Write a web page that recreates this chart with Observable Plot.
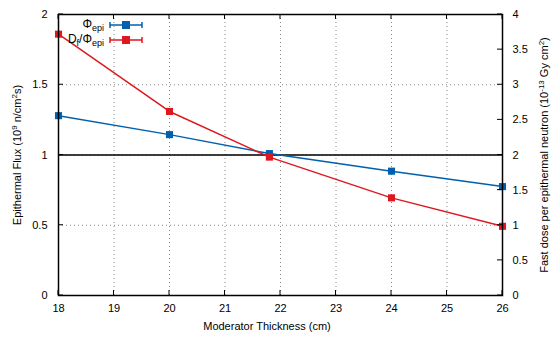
<!DOCTYPE html>
<html><head><meta charset="utf-8">
<script src="https://cdn.jsdelivr.net/npm/d3@7"></script>
<script src="https://cdn.jsdelivr.net/npm/@observablehq/plot@0.6"></script>
<style>
body{margin:0;background:#fff;font-family:"Liberation Sans",Arial,sans-serif;}
#wrap{position:relative;width:553px;height:337px;}
#legend{position:absolute;left:0;top:0;width:553px;height:337px;font-size:11px;color:#000;pointer-events:none;}
.row{position:absolute;left:0;width:104px;display:flex;justify-content:flex-end;align-items:center;}
</style>
</head><body>
<div id="wrap"><div id="chart"></div><div id="legend"></div></div>
<script>
const thickness = [18, 20, 21.8, 24, 26];
const flux = [1.28, 1.145, 1.01, 0.885, 0.775];           // 10^9 n/cm2s (left axis)
const dosePerNeutron = [3.72, 2.62, 1.97, 1.39, 0.985];  // 10^-13 Gy cm2 (right axis)
const xTicks = [18, 19, 20, 21, 22, 23, 24, 25, 26];
const yLeftTicks = [0, 0.5, 1, 1.5, 2];
const yRightTicks = [0, 0.5, 1, 1.5, 2, 2.5, 3, 3.5, 4];
const refLine = [1];
const blue = "#0060ad", red = "#dd181f";

const fluxData = thickness.map((t, i) => ({t, v: flux[i]}));
const doseData = thickness.map((t, i) => ({t, v: dosePerNeutron[i]}));
const ratio = 2; // right axis max / left axis max

const font = "Liberation Sans, Arial, sans-serif";
const chart = Plot.plot({
  width: 553, height: 337,
  marginLeft: 58, marginRight: 51, marginTop: 14, marginBottom: 42,
  style: {fontFamily: font, fontSize: "11px", color: "#000", background: "#fff"},
  x: {domain: [18, 26]},
  y: {domain: [0, 2]},
  marks: [
    Plot.gridX(xTicks.slice(1, -1), {stroke: "#888", strokeOpacity: 1, strokeDasharray: "1,3"}),
    Plot.gridY(yLeftTicks.slice(1, -1), {stroke: "#888", strokeOpacity: 1, strokeDasharray: "1,3"}),
    Plot.axisX(xTicks, {anchor: "bottom", tickSize: 0, tickPadding: 9, tickFormat: d => d, label: null, fontSize: 11}),
    Plot.axisY(yLeftTicks, {anchor: "left", tickSize: 0, tickPadding: 11, tickFormat: d => d, label: null, fontSize: 11}),
    Plot.axisY(yRightTicks.map(d => d / ratio), {anchor: "right", tickSize: 0, tickPadding: 10, tickFormat: d => d * ratio, label: null, fontSize: 11}),
    Plot.ruleY(refLine, {stroke: "#000", strokeWidth: 1.5}),
    Plot.line(fluxData, {x: "t", y: "v", stroke: blue, strokeWidth: 1.5}),
    Plot.dot(fluxData, {x: "t", y: "v", symbol: "square", fill: blue, r: 4}),
    Plot.line(doseData, {x: "t", y: d => d.v / ratio, stroke: red, strokeWidth: 1.5}),
    Plot.dot(doseData, {x: "t", y: d => d.v / ratio, symbol: "square", fill: red, r: 4}),
    Plot.frame({stroke: "#000", strokeWidth: 1.5})
  ]
});
document.getElementById("chart").appendChild(chart);

const svg = d3.select(chart);
const xs = chart.scale("x"), ys = chart.scale("y");
const x0 = xs.apply(18), x1 = xs.apply(26), y0 = ys.apply(0), y1 = ys.apply(2);
const tk = 5;
const g = svg.append("g").attr("stroke", "#000").attr("stroke-width", 1);
xTicks.forEach(v => {
  const px = xs.apply(v);
  g.append("line").attr("x1", px).attr("x2", px).attr("y1", y0).attr("y2", y0 - tk);
  g.append("line").attr("x1", px).attr("x2", px).attr("y1", y1).attr("y2", y1 + tk);
});
yLeftTicks.forEach(v => {
  const py = ys.apply(v);
  g.append("line").attr("x1", x0).attr("x2", x0 + tk).attr("y1", py).attr("y2", py);
});
yRightTicks.forEach(v => {
  const py = ys.apply(v / ratio);
  g.append("line").attr("x1", x1).attr("x2", x1 - tk).attr("y1", py).attr("y2", py);
});

// axis titles
svg.append("text").attr("x", 267).attr("y", 330).attr("text-anchor", "middle")
  .attr("font-size", 11).attr("font-family", font).text("Moderator Thickness (cm)");
const lt = svg.append("text").attr("transform", "translate(21,155) rotate(-90)").attr("text-anchor", "middle")
  .attr("font-size", 11).attr("font-family", font);
lt.append("tspan").text("Epithermal Flux (10");
lt.append("tspan").attr("baseline-shift", "super").attr("font-size", 8).text("9");
lt.append("tspan").text(" n/cm");
lt.append("tspan").attr("baseline-shift", "super").attr("font-size", 8).text("2");
lt.append("tspan").text("s)");
const rt = svg.append("text").attr("transform", "translate(548,155) rotate(-90)").attr("text-anchor", "middle")
  .attr("font-size", 11).attr("font-family", font);
rt.append("tspan").text("Fast dose per epithermal neutron (10");
rt.append("tspan").attr("baseline-shift", "super").attr("font-size", 8).text("-13");
rt.append("tspan").text(" Gy cm");
rt.append("tspan").attr("baseline-shift", "super").attr("font-size", 8).text("2");
rt.append("tspan").text(")");

// legend
const legendItems = [
  {html: "Φ<sub>epi</sub>", color: blue, top: 18},
  {html: "D<sub>f</sub>/Φ<sub>epi</sub>", color: red, top: 33}
];
const lg = document.getElementById("legend");
legendItems.forEach(it => {
  const row = document.createElement("div");
  row.className = "row";
  row.style.top = it.top + "px";
  row.innerHTML = `<span style="font-size:12px;line-height:13px;white-space:nowrap">${it.html.replace(/<sub>/g,'<sub style="font-size:9px;line-height:0">')}</span>`;
  lg.appendChild(row);
  const s = document.createElementNS("http://www.w3.org/2000/svg", "svg");
  s.setAttribute("width", 36); s.setAttribute("height", 12);
  s.style.position = "absolute"; s.style.left = "108px"; s.style.top = (it.top + 1) + "px";
  s.innerHTML = `<line x1="2" x2="34" y1="6" y2="6" stroke="${it.color}" stroke-width="1.5"/>
    <line x1="2" x2="2" y1="3" y2="9" stroke="${it.color}" stroke-width="1.5"/>
    <line x1="34" x2="34" y1="3" y2="9" stroke="${it.color}" stroke-width="1.5"/>
    <rect x="14" y="2" width="8" height="8" fill="${it.color}"/>`;
  lg.appendChild(s);
});
</script>
</body></html>
